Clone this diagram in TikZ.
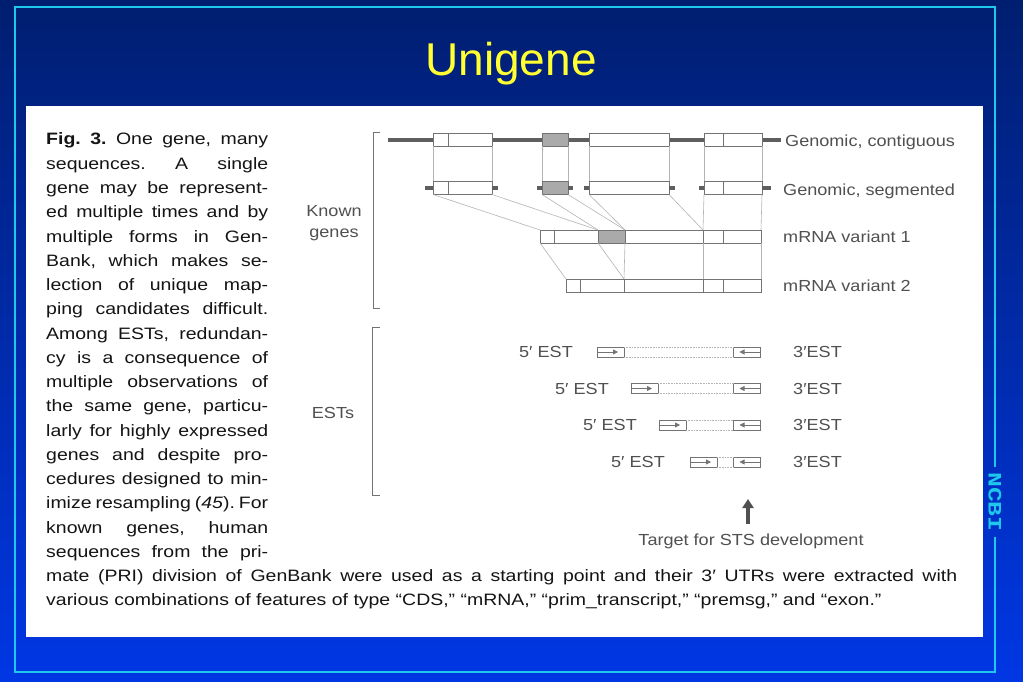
\documentclass[tikz,border=0pt]{standalone}
\usepackage{fontspec}
\setmainfont{Liberation Sans}
\newfontfamily\capfont[FakeStretch=1.18]{Liberation Sans}
\newfontfamily\lblfont[FakeStretch=1.13]{Liberation Sans}
\newfontfamily\ncbifont[FakeStretch=1.3]{Liberation Mono}
\usetikzlibrary{arrows.meta}
\definecolor{bgtop}{RGB}{0,30,112}
\definecolor{bgbot}{RGB}{0,55,228}
\definecolor{cyanb}{RGB}{30,200,235}
\definecolor{ttl}{RGB}{255,255,50}
\definecolor{captxt}{RGB}{20,20,20}
\definecolor{lbltxt}{RGB}{80,80,80}
\definecolor{dline}{RGB}{95,95,95}
\definecolor{boxc}{RGB}{115,115,115}
\definecolor{exfill}{RGB}{170,170,170}
\definecolor{conn}{RGB}{180,180,180}
\newcommand{\exn}[5][]{\node[exbox,#1,minimum width={#4-#3}] (#2) at ({(#3+#4)/2},#5) {};}
\newcommand{\dvd}[2]{\draw[divl] ([xshift=#2pt]#1.north west) -- ([xshift=#2pt]#1.south west);}
\newcommand{\estrow}[4]{%
  \node[estbox] (f#1) at ({#3+13.5},#2) {};
  \node[estbox] (r#1) at (747,#2) {};
  \draw[estdot] (f#1.north east) -- (r#1.north west);
  \draw[estdot] (f#1.south east) -- (r#1.south west);
  \draw[estarr] ([xshift=1pt]f#1.west) -- ([xshift=-6pt]f#1.east);
  \draw[estarr] ([xshift=-1pt]r#1.east) -- ([xshift=6pt]r#1.west);
  \node[lbl, anchor=base east] (fl#1) at (#4,#2+5.5) {5′ EST};
  \node[lbl, anchor=base west] (rl#1) at (793,#2+5.5) {3′EST};
}
\tikzset{
  captext/.style={anchor=base west, inner sep=0, font=\capfont\fontsize{16.5}{19}\selectfont, text=captxt},
  lbl/.style={inner sep=0, font=\lblfont\fontsize{16}{19}\selectfont, text=lbltxt},
  exbox/.style={draw=boxc, line width=0.9pt, fill=white, inner sep=0, outer sep=0, minimum height=13pt},
  gfill/.style={fill=exfill},
  genln/.style={draw=dline, line width=3.5pt},
  connl/.style={draw=conn, line width=0.6pt},
  divl/.style={draw=boxc, line width=0.9pt},
  estbox/.style={draw=boxc, line width=0.8pt, fill=white, inner sep=0, outer sep=0, minimum height=10pt, minimum width=27pt},
  estdot/.style={draw=conn, line width=0.6pt, densely dotted},
  estarr/.style={draw=boxc, line width=0.8pt, -{Triangle[length=5pt,width=5pt]}},
  brk/.style={draw=boxc, line width=1pt},
}
\begin{document}
\begin{tikzpicture}[x=1pt,y=-1pt]
\frenchspacing
\useasboundingbox (0,0) rectangle (1023,682);
\shade[top color=bgtop, bottom color=bgbot] (0,0) rectangle (1023,682);
\fill[white] (26,106) rectangle (983,637);
% title
\node[font=\fontsize{46}{50}\selectfont, text=ttl, anchor=base, inner sep=0] (title) at (511,76) {Unigene};
% NCBI and border
\node[rotate=-90, text=cyanb, font=\ncbifont\bfseries\fontsize{19}{20}\selectfont, inner sep=0] (ncbi) at (995,502) {NCBI};
\draw[cyanb, line width=2pt] ([yshift=5pt]ncbi.west) -- (995,7) -- (15,7) -- (15,672) -- (995,672) -- ([yshift=-5pt]ncbi.east);
% caption
\node[captext] (t1) at (46,145) {\makebox[222pt][s]{\textbf{Fig. 3.} One gene, many}};
\node[captext] (t2) at (46,169.25) {\makebox[222pt][s]{sequences. A single}};
\node[captext] (t3) at (46,193.5) {\makebox[222pt][s]{gene may be represent-}};
\node[captext] (t4) at (46,217.75) {\makebox[222pt][s]{ed multiple times and by}};
\node[captext] (t5) at (46,242) {\makebox[222pt][s]{multiple forms in Gen-}};
\node[captext] (t6) at (46,266.25) {\makebox[222pt][s]{Bank, which makes se-}};
\node[captext] (t7) at (46,290.5) {\makebox[222pt][s]{lection of unique map-}};
\node[captext] (t8) at (46,314.75) {\makebox[222pt][s]{ping candidates difficult.}};
\node[captext] (t9) at (46,339) {\makebox[222pt][s]{Among ESTs, redundan-}};
\node[captext] (t10) at (46,363.25) {\makebox[222pt][s]{cy is a consequence of}};
\node[captext] (t11) at (46,387.5) {\makebox[222pt][s]{multiple observations of}};
\node[captext] (t12) at (46,411.75) {\makebox[222pt][s]{the same gene, particu-}};
\node[captext] (t13) at (46,436) {\makebox[222pt][s]{larly for highly expressed}};
\node[captext] (t14) at (46,460.25) {\makebox[222pt][s]{genes and despite pro-}};
\node[captext] (t15) at (46,484.5) {\makebox[222pt][s]{cedures designed to min-}};
\node[captext] (t16) at (46,508.75) {\makebox[222pt][s]{imize resampling (\textit{45}). For}};
\node[captext] (t17) at (46,533) {\makebox[222pt][s]{known genes, human}};
\node[captext] (t18) at (46,557.25) {\makebox[222pt][s]{sequences from the pri-}};
\node[captext] (t19) at (46,581.5) {\makebox[911pt][s]{mate (PRI) division of GenBank were used as a starting point and their 3′ UTRs were extracted with}};
\node[captext] (t20) at (46,605.75) {various combinations of features of type “CDS,” “mRNA,” “prim\_transcript,” “premsg,” and “exon.”};
% brackets and group labels
\draw[brk] (380,133) -- (373,133) -- (373,308) -- (380,308);
\draw[brk] (380,327) -- (372,327) -- (372,495) -- (380,495);
\node[lbl, anchor=base] (kn1) at (334,216) {Known};
\node[lbl, anchor=base] (kn2) at (334,237) {genes};
\node[lbl, anchor=base] (ests) at (333,418) {ESTs};
% genomic contiguous
\draw[genln] (388,140) -- (781,140);
\exn{c1}{433}{492}{140} \dvd{c1}{15}
\exn[gfill]{c2}{542}{568}{140}
\exn{c3}{589}{669}{140}
\exn{c4}{704}{762}{140} \dvd{c4}{19}
\node[lbl, anchor=base west] (lc) at (785,147) {Genomic, contiguous};
% genomic segmented
\exn{s1}{433}{492}{188} \dvd{s1}{15}
\exn[gfill]{s2}{542}{568}{188}
\exn{s3}{589}{669}{188}
\exn{s4}{704}{762}{188} \dvd{s4}{19}
\draw[genln] ([xshift=-8pt]s1.west) -- (s1.west);
\draw[genln] (s1.east) -- ([xshift=6pt]s1.east);
\draw[genln] ([xshift=-5pt]s2.west) -- (s2.west);
\draw[genln] (s2.east) -- ([xshift=5pt]s2.east);
\draw[genln] ([xshift=-5pt]s3.west) -- (s3.west);
\draw[genln] (s3.east) -- ([xshift=6pt]s3.east);
\draw[genln] ([xshift=-5pt]s4.west) -- (s4.west);
\draw[genln] (s4.east) -- ([xshift=9pt]s4.east);
\node[lbl, anchor=base west] (ls) at (783,195) {Genomic, segmented};
% mRNA variant 1
\exn{m1a}{540}{598}{236.5} \dvd{m1a}{14}
\exn[gfill]{m1b}{598}{625}{236.5}
\exn{m1c}{625}{703}{236.5}
\exn{m1d}{703}{761}{236.5} \dvd{m1d}{20}
\node[lbl, anchor=base west] (lm1) at (783,242) {mRNA variant 1};
% mRNA variant 2
\exn{m2a}{566}{624}{285.5} \dvd{m2a}{14}
\exn{m2c}{624}{703}{285.5}
\exn{m2d}{703}{761}{285.5} \dvd{m2d}{20}
\node[lbl, anchor=base west] (lm2) at (783,291) {mRNA variant 2};
% connectors
\foreach \i in {1,...,4} {
  \draw[connl] (c\i.south west) -- (s\i.north west);
  \draw[connl] (c\i.south east) -- (s\i.north east);
}
\draw[connl] (s1.south west) -- (m1a.north west);
\draw[connl] (s1.south east) -- (m1a.north east);
\draw[connl] (s2.south west) -- (m1b.north west);
\draw[connl] (s2.south east) -- (m1b.north east);
\draw[connl] (s3.south west) -- (m1c.north west);
\draw[connl] (s3.south east) -- (m1c.north east);
\draw[connl] (s4.south west) -- (m1d.north west);
\draw[connl] (s4.south east) -- (m1d.north east);
\draw[connl] (m1a.south west) -- (m2a.north west);
\draw[connl] (m1a.south east) -- (m2a.north east);
\draw[connl] (m1c.south west) -- (m2c.north west);
\draw[connl] (m1c.south east) -- (m2c.north east);
\draw[connl] (m1d.south east) -- (m2d.north east);
% ESTs
\estrow{1}{352}{597}{573}
\estrow{2}{388.5}{631}{609}
\estrow{3}{425}{659}{637}
\estrow{4}{462}{690}{665}
% target arrow
\node[lbl, anchor=base] (target) at (751,545) {Target for STS development};
\coordinate (abot) at (748,524);
\coordinate (atop) at (748,499);
\draw[draw=lbltxt, line width=3.5pt, -{Triangle[length=9pt,width=11pt]}] (abot) -- (atop);
\end{tikzpicture}
\end{document}
